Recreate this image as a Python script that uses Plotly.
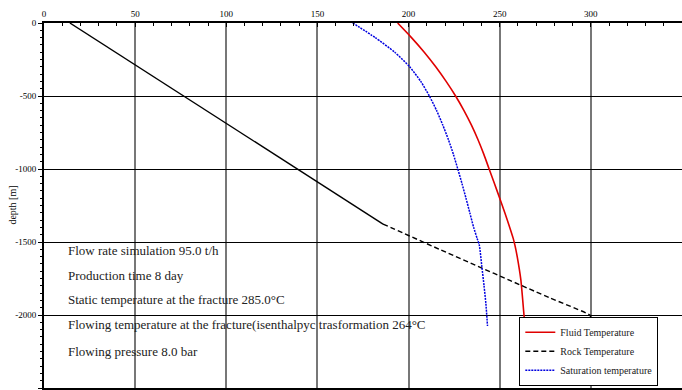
import plotly.graph_objects as go

# Fluid temperature (red)
fluid_depth = [0, -100, -200, -300, -400, -500, -600, -700, -800, -900, -1000, -1100, -1200, -1300, -1400, -1475, -1520, -1600, -1760, -2011, -2080]
fluid_temp = [194.0, 201.6, 208.6, 214.9, 220.6, 225.8, 230.4, 234.5, 238.1, 241.3, 244.2, 247.1, 250.0, 252.8, 255.5, 257.4, 258.3, 259.6, 261.6, 263.4, 264.0]

# Rock temperature (black) - upper solid segment and lower dashed segment
rock_depth_upper = [0, -1377]
rock_temp_upper = [14.2, 186.0]
rock_depth_lower = [-1377, -1550, -1881, -2000, -2040, -2082]
rock_temp_lower = [186.0, 216.9, 277.1, 299.5, 300.3, 300.8]

# Saturation temperature (blue)
sat_depth = [0, -100, -200, -300, -400, -500, -600, -700, -800, -900, -1000, -1100, -1200, -1300, -1400, -1475, -1521, -1669, -1800, -1920, -2075]
sat_temp = [169.4, 181.7, 192.4, 200.6, 206.7, 211.4, 215.4, 218.8, 221.9, 224.6, 227.0, 229.3, 231.5, 233.6, 235.7, 237.6, 238.8, 240.2, 241.4, 242.4, 243.3]

info_lines = [
    "Flow rate simulation 95.0 t/h",
    "Production time 8 day",
    "Static temperature at the fracture 285.0°C",
    "Flowing temperature at the fracture(isenthalpyc trasformation 264°C",
    "Flowing pressure 8.0 bar",
]
info_depths = [-1555, -1726, -1897, -2068, -2247]

x_ticks = [0, 50, 100, 150, 200, 250, 300, 350]
y_ticks = [0, -500, -1000, -1500, -2000, -2500]

FONT = "Liberation Serif"

fig = go.Figure()
fig.add_trace(go.Scatter(x=fluid_temp, y=fluid_depth, mode="lines", name="Fluid Temperature",
                         line=dict(color="#e00000", width=1.6, shape="spline", smoothing=0.6)))
fig.add_trace(go.Scatter(x=rock_temp_upper, y=rock_depth_upper, mode="lines", name="Rock Temperature",
                         showlegend=False, line=dict(color="black", width=1.4)))
fig.add_trace(go.Scatter(x=rock_temp_lower, y=rock_depth_lower, mode="lines", name="Rock Temperature",
                         line=dict(color="black", width=1.4, dash="5px,3px", shape="spline", smoothing=0.3)))
fig.add_trace(go.Scatter(x=sat_temp, y=sat_depth, mode="lines", name="Saturation temperature",
                         line=dict(color="#0000e0", width=1.5, dash="2px,1px", shape="spline", smoothing=0.6)))

for txt, d in zip(info_lines, info_depths):
    fig.add_annotation(x=12, y=d, xref="x", yref="y", text=txt, showarrow=False,
                       xanchor="left", yanchor="middle",
                       font=dict(family=FONT, size=13, color="#222"))

# y-axis title
fig.add_annotation(x=-0.05, y=0.5, xref="paper", yref="paper", text="depth [m]",
                   showarrow=False, textangle=-90, xanchor="center", yanchor="middle",
                   font=dict(family=FONT, size=10, color="black"))

fig.update_layout(
    width=682, height=390,
    margin=dict(l=44, r=0, t=23, b=2),
    paper_bgcolor="white", plot_bgcolor="white",
    font=dict(family=FONT, size=9, color="black"),
    showlegend=True,
    legend=dict(x=0.745, y=0.006, xanchor="left", yanchor="bottom",
                bordercolor="black", borderwidth=1, bgcolor="white",
                font=dict(family=FONT, size=10, color="#222"),
                tracegroupgap=0),
    xaxis=dict(side="top", range=[0, 350], tickvals=x_ticks, ticktext=[str(v) for v in x_ticks],
               showgrid=True, gridcolor="#777", gridwidth=1.5,
               showline=True, linecolor="black", linewidth=2, mirror=True,
               ticks="inside", ticklen=4, tickcolor="black",
               minor=dict(dtick=10, ticks="inside", ticklen=3, tickcolor="black", showgrid=False),
               zeroline=False, fixedrange=True, automargin=False),
    yaxis=dict(range=[-2500, 0], tickvals=y_ticks, ticktext=[str(v) for v in y_ticks],
               showgrid=True, gridcolor="black", gridwidth=1,
               showline=True, linecolor="black", linewidth=2, mirror=True,
               ticks="outside", ticklen=4, tickcolor="black",
               minor=dict(dtick=50, ticks="outside", ticklen=2, tickcolor="black", showgrid=False),
               zeroline=False, fixedrange=True, automargin=False),
)

fig.write_html("out.html")
